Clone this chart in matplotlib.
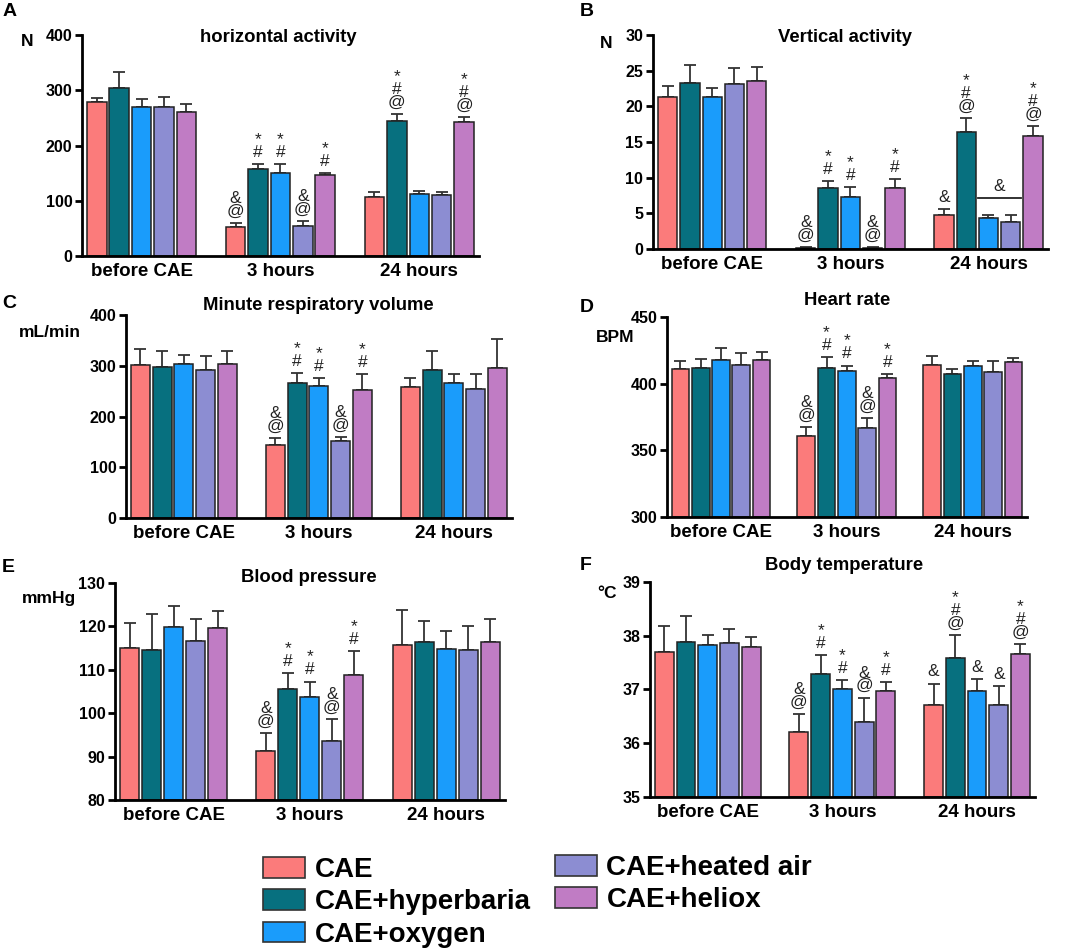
import matplotlib
matplotlib.use("Agg")
import matplotlib.pyplot as plt
from matplotlib.patches import Patch
import numpy as np

plt.rcParams['font.family'] = ['Liberation Sans', 'DejaVu Sans']

groups = ["before CAE", "3 hours", "24 hours"]
series = ["CAE", "CAE+hyperbaria", "CAE+oxygen", "CAE+heated air", "CAE+heliox"]
colors = ["#fb7b7b", "#07707f", "#1a9cfb", "#8c8dd2", "#c07cc4"]

# mean values, rows = groups, cols = series
horiz_mean = [[279, 304, 270, 269, 260], [52, 158, 150, 55, 147], [107, 245, 112, 110, 243]]
horiz_err = [[7, 30, 15, 18, 16], [7, 9, 17, 8, 3], [8, 12, 6, 5, 9]]
vert_mean = [[21.3, 23.3, 21.3, 23.1, 23.6], [0.2, 8.5, 7.3, 0.2, 8.6], [4.8, 16.4, 4.3, 3.8, 15.8]]
vert_err = [[1.5, 2.5, 1.3, 2.3, 1.9], [0.1, 1.0, 1.4, 0.1, 1.2], [0.8, 1.9, 0.5, 1.0, 1.5]]
mrv_mean = [[302, 297, 304, 291, 303], [144, 267, 261, 151, 253], [259, 291, 267, 254, 296]]
mrv_err = [[32, 32, 18, 28, 27], [13, 18, 15, 8, 30], [16, 38, 17, 29, 57]]
hr_mean = [[411, 412, 418, 414, 418], [360.5, 412, 409.6, 367, 404.4], [414, 407, 413, 409, 416.6]]
hr_err = [[6, 6.5, 8.7, 8.7, 5.8], [7, 8, 4, 7, 2.7], [7, 3.8, 4, 7.7, 2.8]]
bp_mean = [[115.0, 114.6, 119.8, 116.7, 119.6], [91.4, 105.5, 103.7, 93.7, 108.8], [115.8, 116.4, 114.8, 114.5, 116.4]]
bp_err = [[5.9, 8.3, 5.0, 4.9, 3.9], [4.1, 3.7, 3.6, 4.9, 5.6], [7.9, 4.9, 4.1, 5.7, 5.4]]
temp_mean = [[37.70, 37.89, 37.82, 37.87, 37.79], [36.21, 37.29, 37.00, 36.39, 36.98], [36.71, 37.59, 36.98, 36.71, 37.66]]
temp_err = [[0.48, 0.47, 0.20, 0.26, 0.18], [0.33, 0.35, 0.18, 0.46, 0.15], [0.40, 0.42, 0.21, 0.35, 0.19]]

# significance marks, (group, series) -> label (top to bottom)
marks_3h = {(1, 0): "&\n@", (1, 1): "*\n#", (1, 2): "*\n#", (1, 3): "&\n@", (1, 4): "*\n#"}
marks_a = {**marks_3h, (2, 1): "*\n#\n@", (2, 4): "*\n#\n@"}
marks_b = {**marks_3h, (2, 0): "&", (2, 1): "*\n#\n@", (2, 4): "*\n#\n@"}
marks_f = {**marks_3h, (2, 0): "&", (2, 1): "*\n#\n@", (2, 2): "&", (2, 3): "&", (2, 4): "*\n#\n@"}

# letter, title, unit, data, limits, ticks, marks, axes rect, letter xy, title xy, unit xy (pixels)
panels = [
    ("A", "horizontal activity", "N", horiz_mean, horiz_err, (0, 400), [0, 100, 200, 300, 400], marks_a,
     [0.077, 0.7305, 0.3728, 0.2326], (3, 11), (278, 37), (27, 41)),
    ("B", "Vertical activity", "N", vert_mean, vert_err, (0, 30), [0, 5, 10, 15, 20, 25, 30], marks_b,
     [0.6131, 0.7379, 0.3709, 0.2253], (580, 11), (845, 38), (606, 43)),
    ("C", "Minute respiratory volume", "mL/min", mrv_mean, mrv_err, (0, 400), [0, 100, 200, 300, 400], marks_3h,
     [0.1183, 0.4547, 0.3624, 0.2137], (2, 303), (318, 305), (50, 332)),
    ("D", "Heart rate", "BPM", hr_mean, hr_err, (300, 450), [300, 350, 400, 450], marks_3h,
     [0.6263, 0.4558, 0.338, 0.2105], (580, 307), (847, 301), (615, 337)),
    ("E", "Blood pressure", "mmHg", bp_mean, bp_err, (80, 130), [80, 90, 100, 110, 120, 130], marks_3h,
     [0.108, 0.1579, 0.3662, 0.2284], (2, 568), (309, 577), (49, 598)),
    ("F", "Body temperature", "°C", temp_mean, temp_err, (35, 39), [35, 36, 37, 38, 39], marks_f,
     [0.6103, 0.1611, 0.3615, 0.2263], (580, 565), (844, 565), (607, 594)),
]

W, H = 1065, 950
fig = plt.figure(figsize=(W / 100, H / 100), dpi=100)


def fxy(p):
    return p[0] / W, 1 - p[1] / H


pitch = 6.2
for letter, title, unit, mean, err, ylim, yticks, marks, rect, lxy, txy, uxy in panels:
    ax = fig.add_axes(rect)
    mean = np.array(mean)
    err = np.array(err)
    for j in range(len(series)):
        x = np.arange(len(groups)) * pitch + j
        base = ylim[0]
        ax.bar(x, mean[:, j] - base, bottom=base, width=0.87, color=colors[j],
               edgecolor="#222222", linewidth=1.1, zorder=2)
        ax.errorbar(x, mean[:, j], yerr=[np.zeros(len(groups)), err[:, j]], fmt="none",
                    ecolor="#333333", elinewidth=1.3, capsize=4, capthick=1.3, zorder=1)
    for (g, j), txt in marks.items():
        top = mean[g, j] + err[g, j]
        ax.annotate(txt, (g * pitch + j, top), xytext=(0, 3), textcoords="offset points",
                    ha="center", va="bottom", fontsize=12.5, linespacing=0.82, color="#222222")
    if letter == "B":
        ax.plot([2 * pitch + 2 - 0.45, 2 * pitch + 3 + 0.45], [7.1, 7.1], color="#222222", lw=1.3)
        ax.text(2 * pitch + 2.5, 7.7, "&", ha="center", va="bottom", fontsize=12.5, color="#222222")
    ax.set_xlim(-0.66, 2 * pitch + 4 + 0.67)
    ax.set_ylim(*ylim)
    ax.set_yticks(yticks)
    ax.set_xticks(np.arange(len(groups)) * pitch + 2)
    ax.set_xticklabels(groups, fontsize=13.5, fontweight="bold")
    ax.tick_params(axis="x", length=0, pad=5)
    ax.tick_params(axis="y", length=5, width=2, labelsize=11.5, pad=2)
    for lab in ax.get_yticklabels():
        lab.set_fontweight("bold")
    for s in ["top", "right"]:
        ax.spines[s].set_visible(False)
    for s in ["left", "bottom"]:
        ax.spines[s].set_linewidth(2)
    fig.text(*fxy(txy), title, fontsize=13.3, fontweight="bold", ha="center", va="center")
    fig.text(*fxy(uxy), unit, fontsize=12.5, fontweight="bold", ha="center", va="center")
    fig.text(*fxy(lxy), letter, fontsize=14, fontweight="bold", ha="left", va="center")

handles = [Patch(facecolor=c, edgecolor="#333333", linewidth=1.2) for c in colors]
kw = dict(frameon=False, handlelength=1.5, handleheight=0.76, handletextpad=0.35,
          labelspacing=0.23, borderaxespad=0, borderpad=0, prop={"weight": "bold", "size": 20})
leg1 = fig.legend(handles[:3], series[:3], loc="upper left", bbox_to_anchor=fxy((263, 857)), **kw)
leg2 = fig.legend(handles[3:], series[3:], loc="upper left", bbox_to_anchor=fxy((555, 855)), **kw)

fig.savefig("out.png", dpi=100)
